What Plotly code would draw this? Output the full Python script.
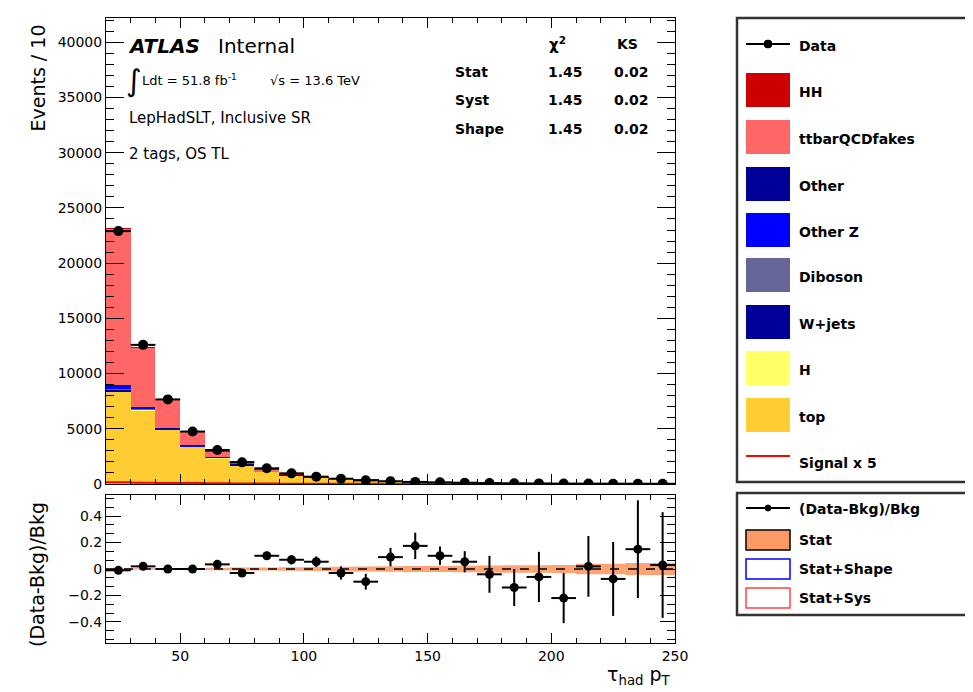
import plotly.graph_objects as go

W, H = 973, 692
OX, OY = 8, 8  # page offset of the figure (body margin)
def px(x): return (x - OX) / W
def py(y): return 1 - (y - OY) / H

# ---------------- data ----------------
bin_edges = [20, 30, 40, 50, 60, 70, 80, 90, 100, 110, 120, 130, 140, 150,
             160, 170, 180, 190, 200, 210, 220, 230, 240, 250]
bin_centers = [(a + b) / 2 for a, b in zip(bin_edges[:-1], bin_edges[1:])]

top_bkg    = [8350, 6700, 4890, 3380, 2350, 1700, 1100, 780, 550, 400, 290, 190, 135, 110, 88, 70, 60, 46, 40, 27, 25, 17, 16]
h_bkg      = [30, 25, 20, 15, 10, 8, 6, 5, 4, 3, 2, 2, 1, 1, 1, 1, 1, 1, 1, 1, 1, 1, 1]
wjets_bkg  = [150, 60, 50, 30, 25, 15, 10, 8, 5, 4, 3, 2, 2, 1, 1, 1, 1, 1, 1, 0, 0, 0, 0]
diboson_bkg= [60, 30, 20, 15, 10, 7, 5, 3, 2, 2, 1, 1, 1, 1, 1, 0, 0, 0, 0, 0, 0, 0, 0]
otherz_bkg = [300, 100, 90, 60, 50, 30, 20, 14, 10, 7, 5, 3, 2, 2, 1, 1, 1, 1, 1, 1, 0, 0, 0]
other_bkg  = [100, 40, 30, 20, 20, 10, 8, 5, 4, 3, 2, 2, 1, 1, 1, 1, 1, 0, 0, 0, 0, 0, 0]
fakes_bkg  = [14120, 5380, 2548, 1220, 502, 244, 136, 81, 52, 73, 60, 28, 18, 19, 15, 13, 11, 8, 7, 4, 5, 3, 3]
hh_sig     = [20, 15, 12, 10, 8, 6, 5, 4, 3, 3, 2, 2, 2, 1, 1, 1, 1, 1, 1, 1, 1, 1, 1]
signal_x5  = [150, 120, 100, 80, 60, 45, 35, 25, 20, 15, 12, 10, 8, 6, 5, 4, 3, 3, 2, 2, 2, 1, 1]

data_vals  = [22900, 12600, 7660, 4750, 3080, 1960, 1420, 965, 665, 480, 330, 250, 190, 150, 115, 85, 65, 55, 40, 35, 30, 25, 22]
data_errs  = [151, 112, 88, 69, 55, 44, 38, 31, 26, 22, 18, 16, 14, 12, 11, 9, 8, 7, 6, 6, 5, 5, 5]

ratio_vals = [-0.01, 0.02, 0.0, 0.0, 0.035, -0.03, 0.10, 0.07, 0.055, -0.03, -0.096, 0.09,
              0.175, 0.10, 0.055, -0.04, -0.14, -0.06, -0.22, 0.02, -0.075, 0.15, 0.03]
ratio_errs = [0.008, 0.01, 0.012, 0.015, 0.02, 0.025, 0.03, 0.035, 0.04, 0.05, 0.06, 0.07,
              0.10, 0.07, 0.08, 0.14, 0.14, 0.19, 0.19, 0.23, 0.28, 0.37, 0.40]
stat_band  = [0.005, 0.006, 0.007, 0.008, 0.01, 0.011, 0.012, 0.014, 0.015, 0.017, 0.019, 0.02,
              0.022, 0.023, 0.025, 0.026, 0.028, 0.028, 0.03, 0.04, 0.04, 0.045, 0.045]

stack = [
    ("top", top_bkg, "#FFCC33"),
    ("H", h_bkg, "#FFFF66"),
    ("W+jets", wjets_bkg, "#000099"),
    ("Diboson", diboson_bkg, "#666699"),
    ("Other Z", otherz_bkg, "#0000FF"),
    ("Other", other_bkg, "#000099"),
    ("ttbarQCDfakes", fakes_bkg, "#FF6666"),
    ("HH", hh_sig, "#CC0000"),
]

fig = go.Figure()

for name, vals, col in stack:
    fig.add_trace(go.Bar(x=bin_centers, y=vals, width=10, name=name,
                         marker=dict(color=col, line=dict(width=0)),
                         xaxis="x", yaxis="y", showlegend=False))

fig.add_trace(go.Scatter(x=bin_edges, y=signal_x5 + [signal_x5[-1]], mode="lines",
                         line=dict(color="#FF0000", width=2, shape="hv"),
                         xaxis="x", yaxis="y", showlegend=False))

fig.add_trace(go.Scatter(x=bin_centers, y=data_vals, mode="markers",
                         marker=dict(color="black", size=10),
                         error_x=dict(type="constant", value=5, thickness=2, width=0, color="black"),
                         error_y=dict(type="data", array=data_errs, thickness=2, width=0, color="black"),
                         xaxis="x", yaxis="y", showlegend=False))

# ratio panel
band_lo = [-e for e in stat_band]
band_hi = list(stat_band)
fig.add_trace(go.Scatter(x=bin_edges, y=band_lo + [band_lo[-1]], mode="lines",
                         line=dict(width=0, shape="hv"), xaxis="x2", yaxis="y2",
                         showlegend=False))
fig.add_trace(go.Scatter(x=bin_edges, y=band_hi + [band_hi[-1]], mode="lines",
                         line=dict(width=0, shape="hv"), fill="tonexty",
                         fillcolor="rgba(255,153,102,0.9)", xaxis="x2", yaxis="y2",
                         showlegend=False))
fig.add_trace(go.Scatter(x=[bin_edges[0], bin_edges[-1]], y=[0, 0], mode="lines",
                         line=dict(color="black", width=1.5, dash="dash"),
                         xaxis="x2", yaxis="y2", showlegend=False))
fig.add_trace(go.Scatter(x=bin_centers, y=ratio_vals, mode="markers",
                         marker=dict(color="black", size=9),
                         error_x=dict(type="constant", value=5, thickness=2, width=0, color="black"),
                         error_y=dict(type="data", array=ratio_errs, thickness=2, width=0, color="black"),
                         xaxis="x2", yaxis="y2", showlegend=False))

tickfont = dict(family="DejaVu Sans", size=14, color="black")
common_x = dict(range=[20, 250], ticks="inside", tick0=0, dtick=50, ticklen=10,
                tickcolor="black", minor=dict(dtick=10, ticklen=5, ticks="inside", tickcolor="black"),
                mirror="allticks", showline=True, linecolor="black", linewidth=1,
                showgrid=False, zeroline=False, domain=[px(106), px(675)], tickfont=tickfont,
                automargin=False)

fig.update_layout(
    width=W, height=H, margin=dict(l=0, r=0, t=0, b=0),
    paper_bgcolor="white", plot_bgcolor="white",
    barmode="stack", bargap=0,
    font=dict(family="DejaVu Sans", color="black"),
    xaxis=dict(common_x, anchor="y", showticklabels=False),
    xaxis2=dict(common_x, anchor="y2", matches="x", showticklabels=True,
                tickvals=[50, 100, 150, 200, 250]),
    yaxis=dict(domain=[py(484), py(18)], range=[0, 42200], dtick=5000, tick0=0,
               tickformat="d",
               ticks="inside", ticklen=18, tickcolor="black",
               minor=dict(dtick=1000, ticklen=8, ticks="inside", tickcolor="black"),
               mirror="allticks", showline=True, linecolor="black", linewidth=1,
               showgrid=False, zeroline=False, tickfont=tickfont, anchor="x",
               automargin=False),
    yaxis2=dict(domain=[py(643), py(495)], range=[-0.56, 0.56], dtick=0.2, tick0=0,
                ticks="inside", ticklen=15, tickcolor="black",
                minor=dict(dtick=0.2 / 3, ticklen=8, ticks="inside", tickcolor="black"),
                mirror="allticks", showline=True, linecolor="black", linewidth=1,
                showgrid=False, zeroline=False, tickfont=tickfont, anchor="x2",
                automargin=False),
)

ann = []
def text(x, y, s, size=14, xanchor="left", yanchor="middle", bold=False, family="DejaVu Sans",
         angle=0, color="black"):
    ann.append(dict(x=px(x), y=py(y), xref="paper", yref="paper", text=s, showarrow=False,
                    xanchor=xanchor, yanchor=yanchor, textangle=angle,
                    font=dict(size=size, family=family, color=color,
                              weight="bold" if bold else "normal")))

# ATLAS labels
text(126, 46, "<b><i>ATLAS</i></b>", size=20)
text(216, 46, "Internal", size=20)
text(124, 80, "∫", size=30)
text(140, 80, "Ldt = 51.8 fb<sup>-1</sup>", size=13)
text(268, 80, "√s = 13.6 TeV", size=13)
text(127, 118, "LepHadSLT, Inclusive SR", size=15)
text(127, 154, "2 tags, OS TL", size=15)

# stats table
text(557, 44, "χ<sup>2</sup>", size=15, xanchor="center", bold=True)
text(627, 44, "KS", size=14, xanchor="center", bold=True)
for yy, lab in [(72, "Stat"), (100, "Syst"), (129, "Shape")]:
    text(453, yy, lab, size=14, bold=True)
    text(565, yy, "1.45", size=14, xanchor="center", bold=True)
    text(631, yy, "0.02", size=14, xanchor="center", bold=True)

# axis titles
text(37, 23, "Events / 10", size=19, xanchor="center", yanchor="top", angle=-90)
text(37, 575, "(Data-Bkg)/Bkg", size=19, xanchor="center", yanchor="middle", angle=-90)
text(673, 690, "τ<sub>had</sub> p<sub>T</sub>", size=19, xanchor="right", yanchor="bottom")

shapes = []
# main legend frame
shapes.append(dict(type="rect", xref="paper", yref="paper", x0=px(737), x1=px(985),
                   y0=py(482), y1=py(18), line=dict(color="#333333", width=2.5)))
# ratio legend frame
shapes.append(dict(type="rect", xref="paper", yref="paper", x0=px(737), x1=px(985),
                   y0=py(615), y1=py(493), line=dict(color="#333333", width=2.5)))

# Data entry
shapes.append(dict(type="line", xref="paper", yref="paper", x0=px(746), x1=px(790),
                   y0=py(44), y1=py(44), line=dict(color="black", width=2)))
shapes.append(dict(type="circle", xref="paper", yref="paper", x0=px(764), x1=px(772),
                   y0=py(48), y1=py(40), fillcolor="black", line=dict(color="black", width=1)))
text(797, 46, "Data", size=14, bold=True)

leg_items = [("HH", "#CC0000", 92), ("ttbarQCDfakes", "#FF6666", 139), ("Other", "#000099", 186),
             ("Other Z", "#0000FF", 232), ("Diboson", "#666699", 277), ("W+jets", "#000099", 324),
             ("H", "#FFFF66", 370), ("top", "#FFCC33", 417)]
for lab, col, yy in leg_items:
    shapes.append(dict(type="rect", xref="paper", yref="paper", x0=px(746), x1=px(790),
                       y0=py(yy + 15), y1=py(yy - 19), fillcolor=col, line=dict(width=0)))
    text(797, yy, lab, size=14, bold=True)

shapes.append(dict(type="line", xref="paper", yref="paper", x0=px(746), x1=px(790),
                   y0=py(456), y1=py(456), line=dict(color="#FF0000", width=2)))
text(797, 463, "Signal x 5", size=14, bold=True)

# ratio legend
shapes.append(dict(type="line", xref="paper", yref="paper", x0=px(746), x1=px(790),
                   y0=py(508), y1=py(508), line=dict(color="black", width=2)))
shapes.append(dict(type="circle", xref="paper", yref="paper", x0=px(765), x1=px(771),
                   y0=py(511), y1=py(505), fillcolor="black", line=dict(color="black", width=1)))
text(797, 509, "(Data-Bkg)/Bkg", size=14, bold=True)
shapes.append(dict(type="rect", xref="paper", yref="paper", x0=px(746), x1=px(790),
                   y0=py(550), y1=py(530), fillcolor="#FF9966", line=dict(color="black", width=1.5)))
text(797, 540, "Stat", size=14, bold=True)
shapes.append(dict(type="rect", xref="paper", yref="paper", x0=px(746), x1=px(790),
                   y0=py(579), y1=py(559), fillcolor="white", line=dict(color="#0000FF", width=1.5)))
text(797, 569, "Stat+Shape", size=14, bold=True)
shapes.append(dict(type="rect", xref="paper", yref="paper", x0=px(746), x1=px(790),
                   y0=py(608), y1=py(588), fillcolor="white", line=dict(color="#FF4444", width=1.5)))
text(797, 598, "Stat+Sys", size=14, bold=True)

fig.update_layout(annotations=ann, shapes=shapes)

fig.write_html("out.html")
